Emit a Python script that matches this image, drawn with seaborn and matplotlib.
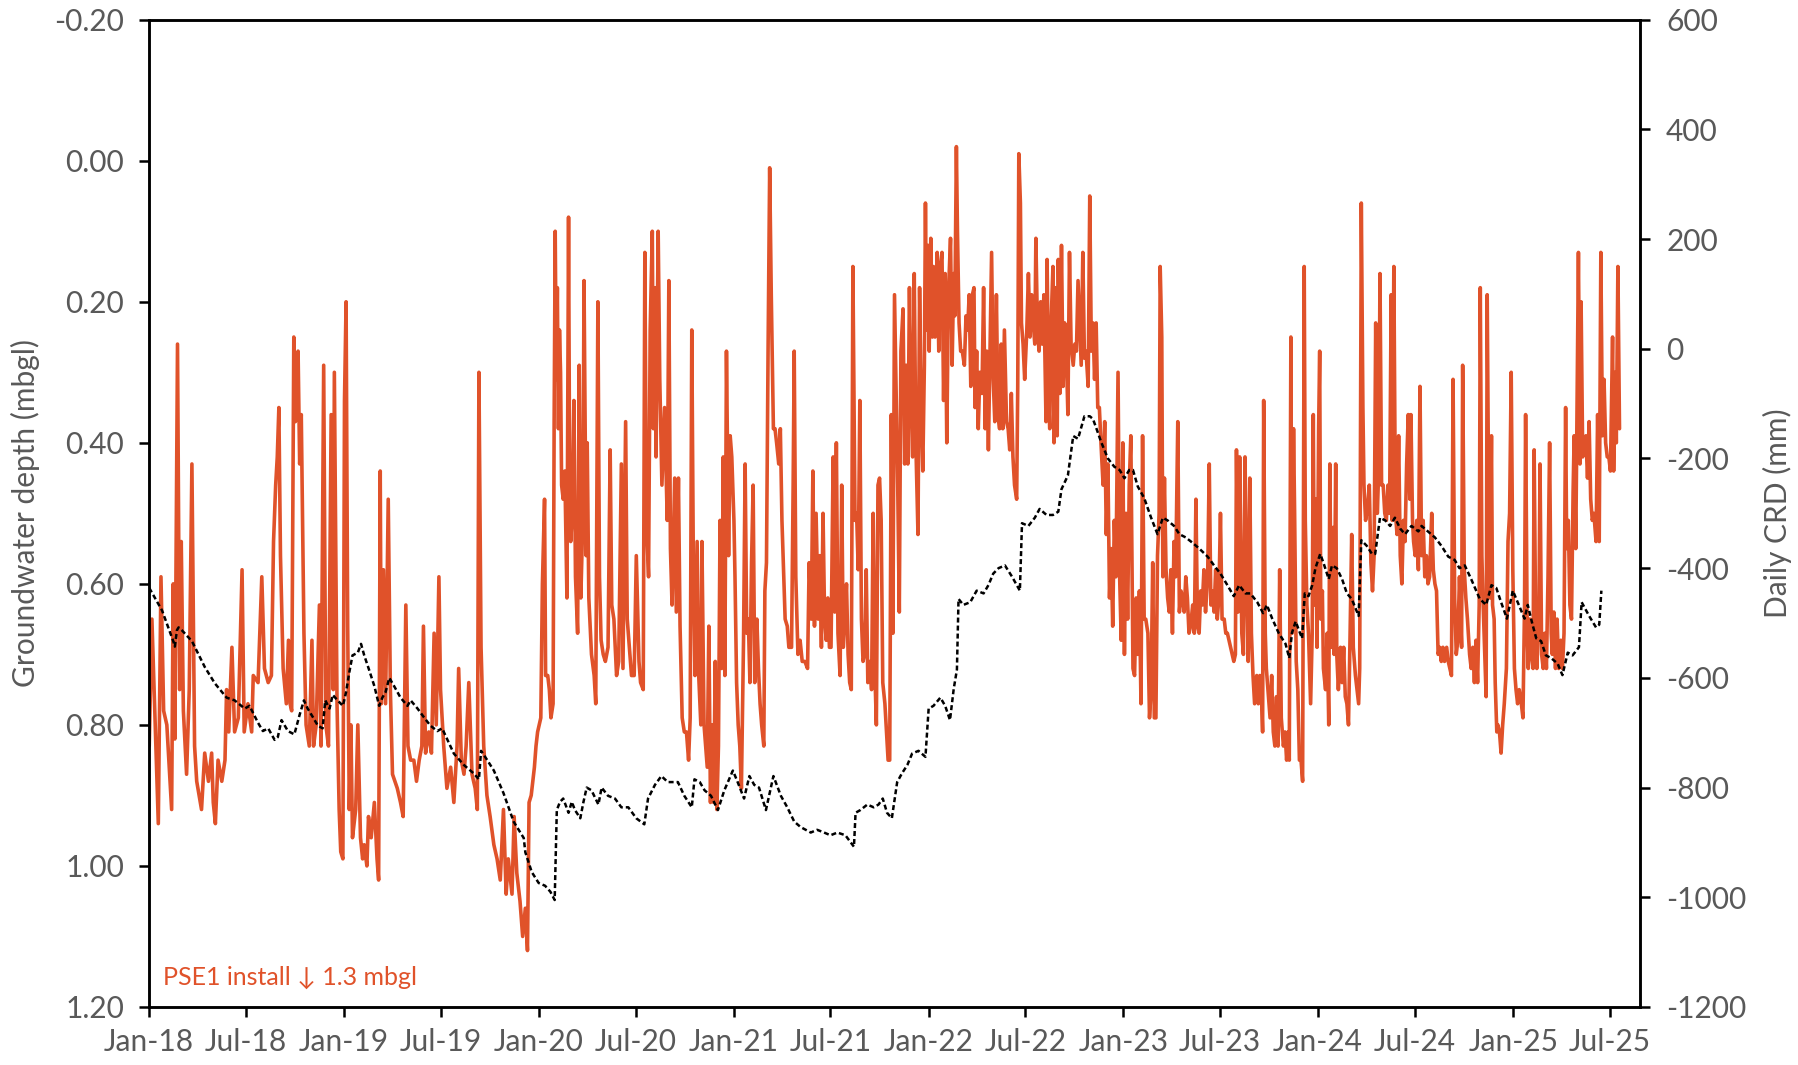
import pandas as pd
import matplotlib
matplotlib.use("Agg")  # no display
import matplotlib.pyplot as plt
import seaborn as sns

sns.set_theme(style="white")
plt.rcParams["font.family"] = ["Lato", "DejaVu Sans"]

# --- data --------------------------------------------------------------
START = "2018-01-01"

# groundwater depth (mbgl), x = days after 1 Jan 2018
gw_day = [
    0, 5, 17, 22, 27, 33, 42, 45, 48, 53, 57, 60,
    64, 70, 75, 80, 85, 89, 98, 104, 111, 117, 120, 124,
    129, 136, 142, 145, 149, 155, 160, 167, 174, 178, 185, 192,
    195, 204, 211, 216, 223, 229, 233, 237, 240, 243, 246, 251,
    257, 261, 264, 267, 271, 274, 276, 279, 282, 285, 290, 294,
    300, 305, 308, 313, 319, 322, 327, 331, 336, 341, 345, 347,
    352, 356, 359, 363, 366, 369, 372, 375, 378, 381, 387, 391,
    396, 400, 403, 408, 411, 416, 422, 427, 430, 433, 435, 439,
    443, 448, 452, 456, 465, 471, 476, 481, 485, 490, 496, 501,
    506, 511, 514, 518, 524, 529, 534, 538, 543, 546, 552, 558,
    565, 571, 577, 580, 585, 590, 594, 599, 605, 611, 615, 618,
    622, 627, 633, 639, 646, 652, 658, 664, 669, 673, 680, 684,
    689, 695, 700,
    705, 709, 712, 716, 719, 722, 725, 728, 731, 734, 737, 741,
    743, 747, 750, 753, 757, 759, 761, 763, 765, 767, 769, 771,
    773, 776, 779, 783, 786, 788, 790, 793, 796, 799, 803, 806,
    809, 813, 815, 819, 821, 824, 829, 834, 837, 841, 844, 847,
    851, 855, 860, 864, 867, 871, 876, 880, 885, 888, 893, 896,
    900, 904, 909, 913, 918, 921, 926, 929, 932, 936, 939, 943,
    945, 948, 950, 954, 957, 961, 966, 971, 974, 977, 980, 985,
    988, 992, 995, 999, 1003, 1007, 1011, 1014, 1017, 1020, 1023, 1027,
    1030, 1034, 1036, 1040, 1043, 1046, 1049, 1052, 1055, 1058, 1061, 1064,
    1067, 1070, 1073, 1076, 1079, 1082, 1086, 1089, 1092, 1096, 1098, 1101,
    1104, 1107, 1110, 1114, 1117, 1120, 1123, 1126, 1129, 1132, 1135, 1139,
    1142, 1145, 1148, 1152, 1154, 1157, 1160, 1163, 1166, 1170, 1173, 1176,
    1180, 1183, 1186, 1189, 1192, 1196, 1199, 1204, 1207, 1209, 1212, 1216,
    1220, 1224, 1229, 1234, 1237, 1241, 1244, 1247, 1250, 1254, 1257, 1260,
    1263, 1266, 1269, 1272, 1275, 1278, 1282, 1285, 1288, 1291, 1295, 1298,
    1301, 1304, 1307, 1310, 1313, 1316, 1319, 1323, 1326, 1329, 1332, 1335,
    1338, 1341, 1344, 1347, 1351, 1354, 1357, 1360, 1363, 1366, 1369, 1372,
    1375, 1379, 1382, 1385, 1388, 1391, 1394, 1397,
    1403, 1406, 1409, 1413, 1416, 1419, 1422, 1425, 1428, 1431, 1434, 1437,
    1441, 1444, 1447, 1450, 1453, 1455, 1457, 1460, 1462, 1465, 1468, 1470,
    1473, 1477, 1480, 1483, 1486, 1489, 1492, 1495, 1498, 1502, 1505, 1508,
    1510, 1513, 1515, 1518, 1521, 1524, 1528, 1531, 1534, 1537, 1540, 1543,
    1546, 1548, 1551, 1554, 1557, 1561, 1564, 1567, 1570, 1573, 1576, 1579,
    1582, 1585, 1588, 1591, 1594, 1597, 1600, 1603, 1607, 1610, 1613, 1616,
    1619, 1622, 1626, 1628, 1630, 1633, 1635, 1638, 1641, 1645, 1648, 1651,
    1654, 1657, 1660, 1662, 1665, 1668, 1671, 1674, 1677, 1681, 1683, 1686,
    1688, 1691, 1694, 1696, 1699, 1702, 1704, 1707, 1710, 1713, 1716, 1719,
    1722, 1725, 1728, 1732, 1735, 1738, 1741, 1744, 1747, 1750, 1753, 1756,
    1760, 1763, 1766, 1769, 1772, 1775, 1778, 1781, 1784, 1788, 1791, 1794,
    1797, 1800, 1803, 1806, 1809, 1812, 1816, 1819, 1822, 1825, 1828, 1831,
    1834, 1837, 1840, 1844, 1847, 1850, 1853, 1856, 1859, 1862, 1865, 1868,
    1872, 1875, 1878, 1881, 1884, 1887, 1890, 1893, 1895, 1898, 1900, 1903,
    1906, 1909, 1912, 1915, 1918, 1921, 1924, 1928, 1931, 1934, 1937, 1940,
    1943, 1946, 1949, 1952, 1956, 1959, 1962, 1965, 1968, 1971, 1974, 1977,
    1980, 1984, 1987, 1990, 1993, 1996, 1999, 2002, 2005, 2008, 2011, 2015,
    2018, 2021, 2024, 2027, 2030, 2033, 2036, 2038, 2041, 2044, 2048, 2051,
    2054, 2057, 2060, 2063, 2066, 2069, 2072, 2076, 2079, 2082, 2085, 2087,
    2089, 2092,
    2094, 2098, 2101, 2104, 2107, 2110, 2113, 2116, 2119, 2122, 2126, 2129,
    2132, 2135, 2137, 2140, 2142, 2145, 2147, 2150, 2153, 2156, 2159, 2162,
    2165, 2167, 2170, 2173, 2177, 2180, 2182, 2184, 2187, 2189, 2192, 2194,
    2196, 2199, 2201, 2205, 2208, 2211, 2213, 2216, 2219, 2221, 2224, 2226,
    2229, 2233, 2236, 2239, 2242, 2245, 2248, 2251, 2254, 2257, 2261, 2264,
    2267, 2269, 2272, 2275, 2277, 2280, 2284, 2287, 2290, 2293, 2296, 2299,
    2302, 2305, 2307, 2310, 2313, 2316, 2319, 2322, 2325, 2328, 2330, 2333,
    2336, 2339, 2342, 2345, 2348, 2351, 2354, 2357, 2360, 2363, 2365, 2368,
    2370, 2373, 2376, 2379, 2382, 2385, 2388, 2391, 2394, 2397, 2400, 2404,
    2407, 2410, 2413, 2416, 2419, 2422, 2425, 2428, 2432, 2435, 2438, 2441,
    2444, 2447, 2450, 2453, 2456, 2460, 2462, 2465, 2468, 2471, 2475, 2478,
    2481, 2484, 2487, 2490, 2493, 2495, 2498, 2500, 2503, 2506, 2508, 2511,
    2513, 2516, 2518, 2521, 2523, 2526, 2528, 2531, 2534, 2537, 2540, 2544,
    2547, 2550, 2553, 2556, 2559, 2562, 2565, 2568, 2572, 2575, 2578, 2580,
    2583, 2585, 2588, 2591, 2594, 2596, 2599, 2601, 2605, 2607, 2610, 2613,
    2616, 2619, 2622, 2625, 2628, 2630, 2633, 2636, 2639, 2642, 2646, 2649,
    2652, 2655, 2657, 2660, 2663, 2666, 2669, 2671, 2674, 2676, 2679, 2682,
    2684, 2687, 2690, 2693, 2696, 2699, 2702, 2705, 2708, 2712, 2715, 2718,
    2721, 2724, 2727, 2730, 2733, 2736, 2739, 2743, 2745, 2748, 2750, 2753, 2756,
]
gw_depth = [
    0.83, 0.65, 0.94, 0.59, 0.78, 0.80, 0.92, 0.60, 0.82, 0.26, 0.75, 0.54,
    0.78, 0.87, 0.75, 0.43, 0.83, 0.88, 0.92, 0.84, 0.88, 0.84, 0.91, 0.94,
    0.85, 0.88, 0.85, 0.75, 0.81, 0.69, 0.81, 0.79, 0.58, 0.81, 0.77, 0.81,
    0.73, 0.74, 0.59, 0.72, 0.74, 0.73, 0.54, 0.46, 0.42, 0.35, 0.56, 0.72,
    0.77, 0.68, 0.77, 0.78, 0.25, 0.37, 0.31, 0.27, 0.43, 0.36, 0.67, 0.80,
    0.83, 0.68, 0.83, 0.80, 0.63, 0.83, 0.29, 0.80, 0.83, 0.36, 0.75, 0.30,
    0.77, 0.92, 0.98, 0.99, 0.34, 0.20, 0.66, 0.92, 0.80, 0.96, 0.92, 0.80,
    0.96, 0.99, 0.97, 1.00, 0.93, 0.96, 0.91, 0.99, 1.02, 0.44, 0.77, 0.58,
    0.77, 0.48, 0.75, 0.87, 0.89, 0.91, 0.93, 0.63, 0.83, 0.85, 0.85, 0.88,
    0.85, 0.83, 0.66, 0.84, 0.81, 0.84, 0.67, 0.80, 0.59, 0.75, 0.83, 0.89,
    0.86, 0.91, 0.83, 0.72, 0.85, 0.87, 0.83, 0.74, 0.87, 0.89, 0.92, 0.30,
    0.69, 0.83, 0.90, 0.93, 0.97, 0.99, 1.02, 0.92, 1.04, 0.99, 1.04, 0.93,
    1.01, 1.05, 1.10,
    1.06, 1.12, 0.91, 0.90, 0.88, 0.86, 0.83, 0.81, 0.80, 0.79, 0.60, 0.48,
    0.73, 0.73, 0.75, 0.79, 0.77, 0.37, 0.10, 0.31, 0.18, 0.38, 0.24, 0.30,
    0.46, 0.48, 0.44, 0.62, 0.08, 0.45, 0.54, 0.50, 0.34, 0.59, 0.67, 0.29,
    0.62, 0.50, 0.17, 0.56, 0.40, 0.62, 0.70, 0.73, 0.77, 0.20, 0.59, 0.68,
    0.70, 0.71, 0.69, 0.41, 0.63, 0.65, 0.73, 0.71, 0.43, 0.72, 0.37, 0.65,
    0.69, 0.73, 0.73, 0.56, 0.71, 0.74, 0.75, 0.13, 0.51, 0.59, 0.24, 0.10,
    0.38, 0.18, 0.42, 0.10, 0.31, 0.46, 0.35, 0.51, 0.17, 0.55, 0.63, 0.45,
    0.64, 0.45, 0.66, 0.79, 0.81, 0.81, 0.85, 0.79, 0.24, 0.58, 0.73, 0.54,
    0.73, 0.80, 0.54, 0.80, 0.83, 0.86, 0.66, 0.91, 0.80, 0.91, 0.71, 0.92,
    0.83, 0.51, 0.72, 0.42, 0.73, 0.27, 0.56, 0.39, 0.42, 0.51, 0.59, 0.74,
    0.80, 0.83, 0.89, 0.68, 0.43, 0.67, 0.65, 0.74, 0.57, 0.46, 0.74, 0.65,
    0.72, 0.77, 0.80, 0.83, 0.61, 0.57, 0.27, 0.01, 0.19, 0.38, 0.38, 0.40,
    0.43, 0.38, 0.51, 0.58, 0.65, 0.66, 0.69, 0.69, 0.46, 0.27, 0.59, 0.70,
    0.68, 0.71, 0.71, 0.72, 0.57, 0.65, 0.44, 0.66, 0.50, 0.65, 0.56, 0.69,
    0.50, 0.65, 0.68, 0.62, 0.69, 0.69, 0.42, 0.64, 0.40, 0.67, 0.73, 0.46,
    0.69, 0.65, 0.60, 0.70, 0.74, 0.75, 0.15, 0.51, 0.50, 0.58, 0.34, 0.65,
    0.71, 0.70, 0.58, 0.74, 0.71, 0.75, 0.50, 0.72, 0.80, 0.46, 0.45, 0.51,
    0.74, 0.77, 0.81, 0.85, 0.85, 0.36, 0.67, 0.19,
    0.46, 0.64, 0.27, 0.21, 0.43, 0.29, 0.43, 0.18, 0.34, 0.42, 0.16, 0.40,
    0.53, 0.18, 0.35, 0.44, 0.29, 0.06, 0.24, 0.12, 0.27, 0.11, 0.25, 0.15,
    0.25, 0.13, 0.27, 0.15, 0.13, 0.34, 0.16, 0.40, 0.19, 0.11, 0.29, 0.16,
    0.22, -0.02, 0.10, 0.23, 0.27, 0.27, 0.29, 0.22, 0.24, 0.19, 0.32, 0.19,
    0.18, 0.35, 0.27, 0.38, 0.30, 0.33, 0.18, 0.38, 0.27, 0.41, 0.27, 0.13,
    0.31, 0.37, 0.19, 0.36, 0.38, 0.26, 0.38, 0.24, 0.37, 0.38, 0.41, 0.33,
    0.42, 0.46, 0.48, 0.32, -0.01, 0.06, 0.23, 0.26, 0.31, 0.24, 0.16, 0.25,
    0.19, 0.23, 0.26, 0.11, 0.24, 0.27, 0.20, 0.26, 0.19, 0.37, 0.14, 0.34,
    0.38, 0.22, 0.15, 0.40, 0.18, 0.39, 0.14, 0.33, 0.12, 0.32, 0.23, 0.27,
    0.36, 0.13, 0.26, 0.29, 0.26, 0.27, 0.17, 0.23, 0.29, 0.13, 0.28, 0.27,
    0.32, 0.05, 0.27, 0.23, 0.31, 0.23, 0.35, 0.35, 0.40, 0.46, 0.37, 0.53,
    0.43, 0.62, 0.55, 0.66, 0.51, 0.59, 0.30, 0.59, 0.68, 0.40, 0.70, 0.50,
    0.65, 0.46, 0.39, 0.72, 0.73, 0.62, 0.70, 0.61, 0.77, 0.39, 0.65, 0.65,
    0.67, 0.79, 0.75, 0.57, 0.79, 0.79, 0.56, 0.50, 0.15, 0.25, 0.59, 0.45,
    0.58, 0.62, 0.64, 0.58, 0.67, 0.54, 0.59, 0.37, 0.64, 0.61, 0.62, 0.64,
    0.59, 0.62, 0.67, 0.66, 0.63, 0.67, 0.48, 0.66, 0.67, 0.61, 0.63, 0.58,
    0.64, 0.59, 0.43, 0.63, 0.61, 0.64, 0.58, 0.65, 0.62, 0.50, 0.65, 0.65,
    0.67, 0.67, 0.68, 0.69, 0.70, 0.71, 0.70, 0.41, 0.64, 0.42, 0.67, 0.70,
    0.42, 0.59, 0.71, 0.45, 0.67, 0.73, 0.77, 0.73, 0.77, 0.73, 0.76, 0.81,
    0.34, 0.67,
    0.72, 0.76, 0.79, 0.73, 0.81, 0.83, 0.76, 0.83, 0.58, 0.79, 0.83, 0.81,
    0.85, 0.81, 0.85, 0.25, 0.67, 0.38, 0.50, 0.71, 0.75, 0.85, 0.85, 0.88,
    0.15, 0.51, 0.63, 0.67, 0.77, 0.67, 0.36, 0.63, 0.48, 0.69, 0.38, 0.27,
    0.65, 0.61, 0.72, 0.75, 0.67, 0.80, 0.43, 0.69, 0.52, 0.70, 0.43, 0.70,
    0.75, 0.69, 0.74, 0.69, 0.76, 0.77, 0.80, 0.67, 0.53, 0.69, 0.73, 0.75,
    0.77, 0.72, 0.06, 0.35, 0.46, 0.51, 0.49, 0.46, 0.57, 0.61, 0.56, 0.23,
    0.50, 0.43, 0.16, 0.46, 0.46, 0.50, 0.51, 0.46, 0.50, 0.19, 0.51, 0.15,
    0.50, 0.53, 0.39, 0.56, 0.60, 0.51, 0.54, 0.43, 0.36, 0.48, 0.36, 0.51,
    0.54, 0.56, 0.51, 0.58, 0.32, 0.56, 0.51, 0.59, 0.56, 0.60, 0.59, 0.50,
    0.58, 0.60, 0.61, 0.70, 0.69, 0.71, 0.69, 0.71, 0.69, 0.71, 0.72, 0.73,
    0.31, 0.62, 0.70, 0.68, 0.59, 0.69, 0.29, 0.58, 0.62, 0.65, 0.70, 0.72,
    0.69, 0.74, 0.68, 0.74, 0.63, 0.18, 0.56, 0.62, 0.69, 0.76, 0.19, 0.51,
    0.62, 0.39, 0.63, 0.65, 0.74, 0.81, 0.80, 0.81, 0.84, 0.80, 0.77, 0.72,
    0.54, 0.50, 0.30, 0.58, 0.72, 0.75, 0.77, 0.75, 0.77, 0.79, 0.63, 0.36,
    0.67, 0.72, 0.65, 0.70, 0.72, 0.41, 0.67, 0.72, 0.64, 0.43, 0.70, 0.72,
    0.67, 0.72, 0.59, 0.40, 0.67, 0.70, 0.64, 0.72, 0.65, 0.72, 0.68, 0.72,
    0.67, 0.35, 0.55, 0.51, 0.63, 0.65, 0.47, 0.39, 0.55, 0.38, 0.13, 0.43,
    0.20, 0.42, 0.40, 0.39, 0.45, 0.37, 0.48, 0.51, 0.50, 0.54, 0.36, 0.54,
    0.13, 0.39, 0.31, 0.40, 0.42, 0.42, 0.44, 0.25, 0.44, 0.30, 0.40, 0.15, 0.38,
]

# daily CRD (mm), x = days after 1 Jan 2018
crd_day = [
    0, 24, 45, 48, 52, 55, 61, 80, 104, 123, 145, 160, 179, 188, 204, 213,
    223, 235, 241, 248, 260, 272, 282, 290, 297, 307, 316, 325, 330, 338, 344, 353,
    363, 369, 375, 381, 391, 397, 403, 412, 422, 431, 437, 443, 450, 459, 471, 484,
    490, 503, 515, 527, 540, 549, 559, 571, 590, 608, 618, 622, 633, 646, 664, 683,
    702, 705, 717, 730, 742, 752, 760, 764, 770, 776, 786, 792, 798, 808, 814, 820,
    829, 842, 848, 860, 873, 885, 898, 913, 928, 935, 948, 960, 972, 991, 1003, 1017,
    1022, 1032, 1041, 1053, 1066, 1078, 1094, 1103, 1115, 1125, 1134, 1143, 1156, 1170, 1184, 1196,
    1209, 1221, 1240, 1252, 1265, 1277, 1290, 1305, 1321, 1324, 1333, 1346, 1358, 1367, 1375, 1383,
    1392, 1402, 1411, 1421, 1430, 1442, 1455, 1461, 1470, 1483, 1492, 1501, 1508, 1514, 1517, 1526,
    1539, 1551, 1564, 1573, 1582, 1592, 1604, 1617, 1632, 1636, 1648, 1660, 1669, 1682, 1694, 1704,
    1710, 1722, 1732, 1741, 1753, 1763, 1769, 1775, 1784, 1797, 1809, 1819, 1828, 1837, 1844, 1853,
    1865, 1878, 1890, 1900, 1909, 1921, 1931, 1943, 1956, 1968, 1984, 1996, 2008, 2021, 2033, 2043,
    2055, 2064, 2077, 2088, 2095, 2105, 2117, 2130, 2137, 2142, 2149, 2155, 2161, 2166, 2173, 2180,
    2186, 2195, 2201, 2211, 2217, 2226, 2236, 2245, 2254, 2267, 2272, 2282, 2292, 2298, 2307, 2317,
    2326, 2335, 2345, 2354, 2366, 2379, 2385, 2397, 2410, 2422, 2435, 2447, 2456, 2466, 2478, 2494,
    2506, 2516, 2525, 2534, 2545, 2556, 2565, 2578, 2584, 2593, 2600, 2609, 2618, 2628, 2640, 2649,
    2659, 2668, 2680, 2685, 2699, 2712, 2718, 2722,
]
crd_mm = [
    -436, -477, -533, -543, -513, -508, -513, -533, -580, -610, -636, -641, -656, -651, -682, -697,
    -692, -713, -708, -677, -697, -703, -667, -641, -656, -672, -687, -692, -641, -656, -631, -641,
    -651, -626, -590, -559, -554, -538, -559, -585, -615, -651, -636, -626, -600, -615, -636, -651,
    -641, -656, -672, -687, -697, -692, -713, -738, -759, -774, -785, -733, -749, -769, -810, -862,
    -892, -918, -954, -974, -979, -990, -1005, -841, -826, -820, -846, -826, -841, -856, -826, -800,
    -805, -831, -800, -815, -820, -836, -836, -856, -867, -820, -795, -779, -790, -790, -815, -836,
    -785, -790, -805, -815, -841, -805, -769, -790, -820, -779, -795, -800, -841, -779, -815, -836,
    -862, -872, -882, -877, -882, -887, -882, -887, -908, -846, -841, -831, -836, -831, -820, -846,
    -856, -790, -774, -759, -738, -733, -744, -656, -651, -636, -651, -677, -620, -585, -456, -467,
    -462, -441, -446, -431, -410, -400, -395, -415, -441, -318, -323, -308, -292, -303, -303, -297,
    -256, -231, -159, -164, -123, -123, -128, -144, -169, -200, -215, -221, -236, -221, -221, -251,
    -272, -308, -338, -308, -313, -323, -338, -344, -354, -364, -379, -395, -410, -431, -451, -431,
    -446, -446, -462, -482, -467, -492, -518, -538, -564, -518, -497, -513, -528, -446, -451, -431,
    -400, -374, -390, -420, -395, -400, -420, -446, -456, -487, -349, -359, -374, -374, -308, -313,
    -323, -308, -328, -338, -323, -333, -323, -333, -344, -359, -379, -385, -400, -395, -420, -456,
    -467, -431, -436, -462, -492, -441, -462, -492, -467, -503, -528, -533, -559, -564, -574, -595,
    -554, -559, -544, -462, -487, -508, -503, -441,
]

depth_ticks = [-0.20, 0.00, 0.20, 0.40, 0.60, 0.80, 1.00, 1.20]
depth_labels = ["-0.20", "0.00", "0.20", "0.40", "0.60", "0.80", "1.00", "1.20"]
crd_ticks = [600, 400, 200, 0, -200, -400, -600, -800, -1000, -1200]
date_ticks = pd.date_range("2018-01-01", "2025-07-01", freq="6MS")

ORANGE = "#E0522A"
GREY = "#595959"

assert len(gw_day) == len(gw_depth)
assert len(crd_day) == len(crd_mm)

t0 = pd.Timestamp(START)
gw = pd.DataFrame({"date": t0 + pd.to_timedelta(gw_day, unit="D"), "depth": gw_depth})
crd = pd.DataFrame({"date": t0 + pd.to_timedelta(crd_day, unit="D"), "crd": crd_mm})

fig, ax = plt.subplots(figsize=(17.98, 10.65), dpi=100)
fig.subplots_adjust(left=0.083, right=0.912, top=0.9815, bottom=0.0545)

# groundwater depth on the left (inverted) axis
sns.lineplot(data=gw, x="date", y="depth", ax=ax, color=ORANGE, linewidth=2.6,
             estimator=None, sort=False)

# cumulative rainfall departure on the right axis
ax2 = ax.twinx()
sns.lineplot(data=crd, x="date", y="crd", ax=ax2, color="black", linewidth=1.8,
             estimator=None, sort=False)
ax2.lines[0].set_dashes([2.0, 1.2])

ax.set_xlim(t0, pd.Timestamp("2025-08-26"))
ax.set_ylim(1.20, -0.20)
ax2.set_ylim(-1200, 600)

ax.set_xticks(date_ticks)
ax.set_xticklabels([d.strftime("%b-%y") for d in date_ticks])
ax.set_yticks(depth_ticks)
ax.set_yticklabels(depth_labels)
ax2.set_yticks(crd_ticks)
ax2.set_yticklabels([str(v) for v in crd_ticks])

for a in (ax, ax2):
    for s in a.spines.values():
        s.set_color("black")
        s.set_linewidth(1.8)
    a.tick_params(direction="out", length=7, width=1.8, color="black",
                  labelcolor=GREY, labelsize=21.5)
ax.tick_params(axis="x", bottom=True, pad=8)
ax.tick_params(axis="y", left=True, pad=11)
ax2.tick_params(axis="y", right=True, pad=12)

ax.set_xlabel("")
ax.set_ylabel("Groundwater depth (mbgl)", fontsize=21.5, color=GREY, labelpad=10)
ax2.set_ylabel("Daily CRD (mm)", fontsize=21.5, color=GREY, labelpad=12)

ax.text(0.009, 0.03, "PSE1 install \u2193 1.3 mbgl", transform=ax.transAxes,
        color=ORANGE, fontsize=18, ha="left", va="center")

fig.savefig("out.png", dpi=100)
plt.close(fig)
